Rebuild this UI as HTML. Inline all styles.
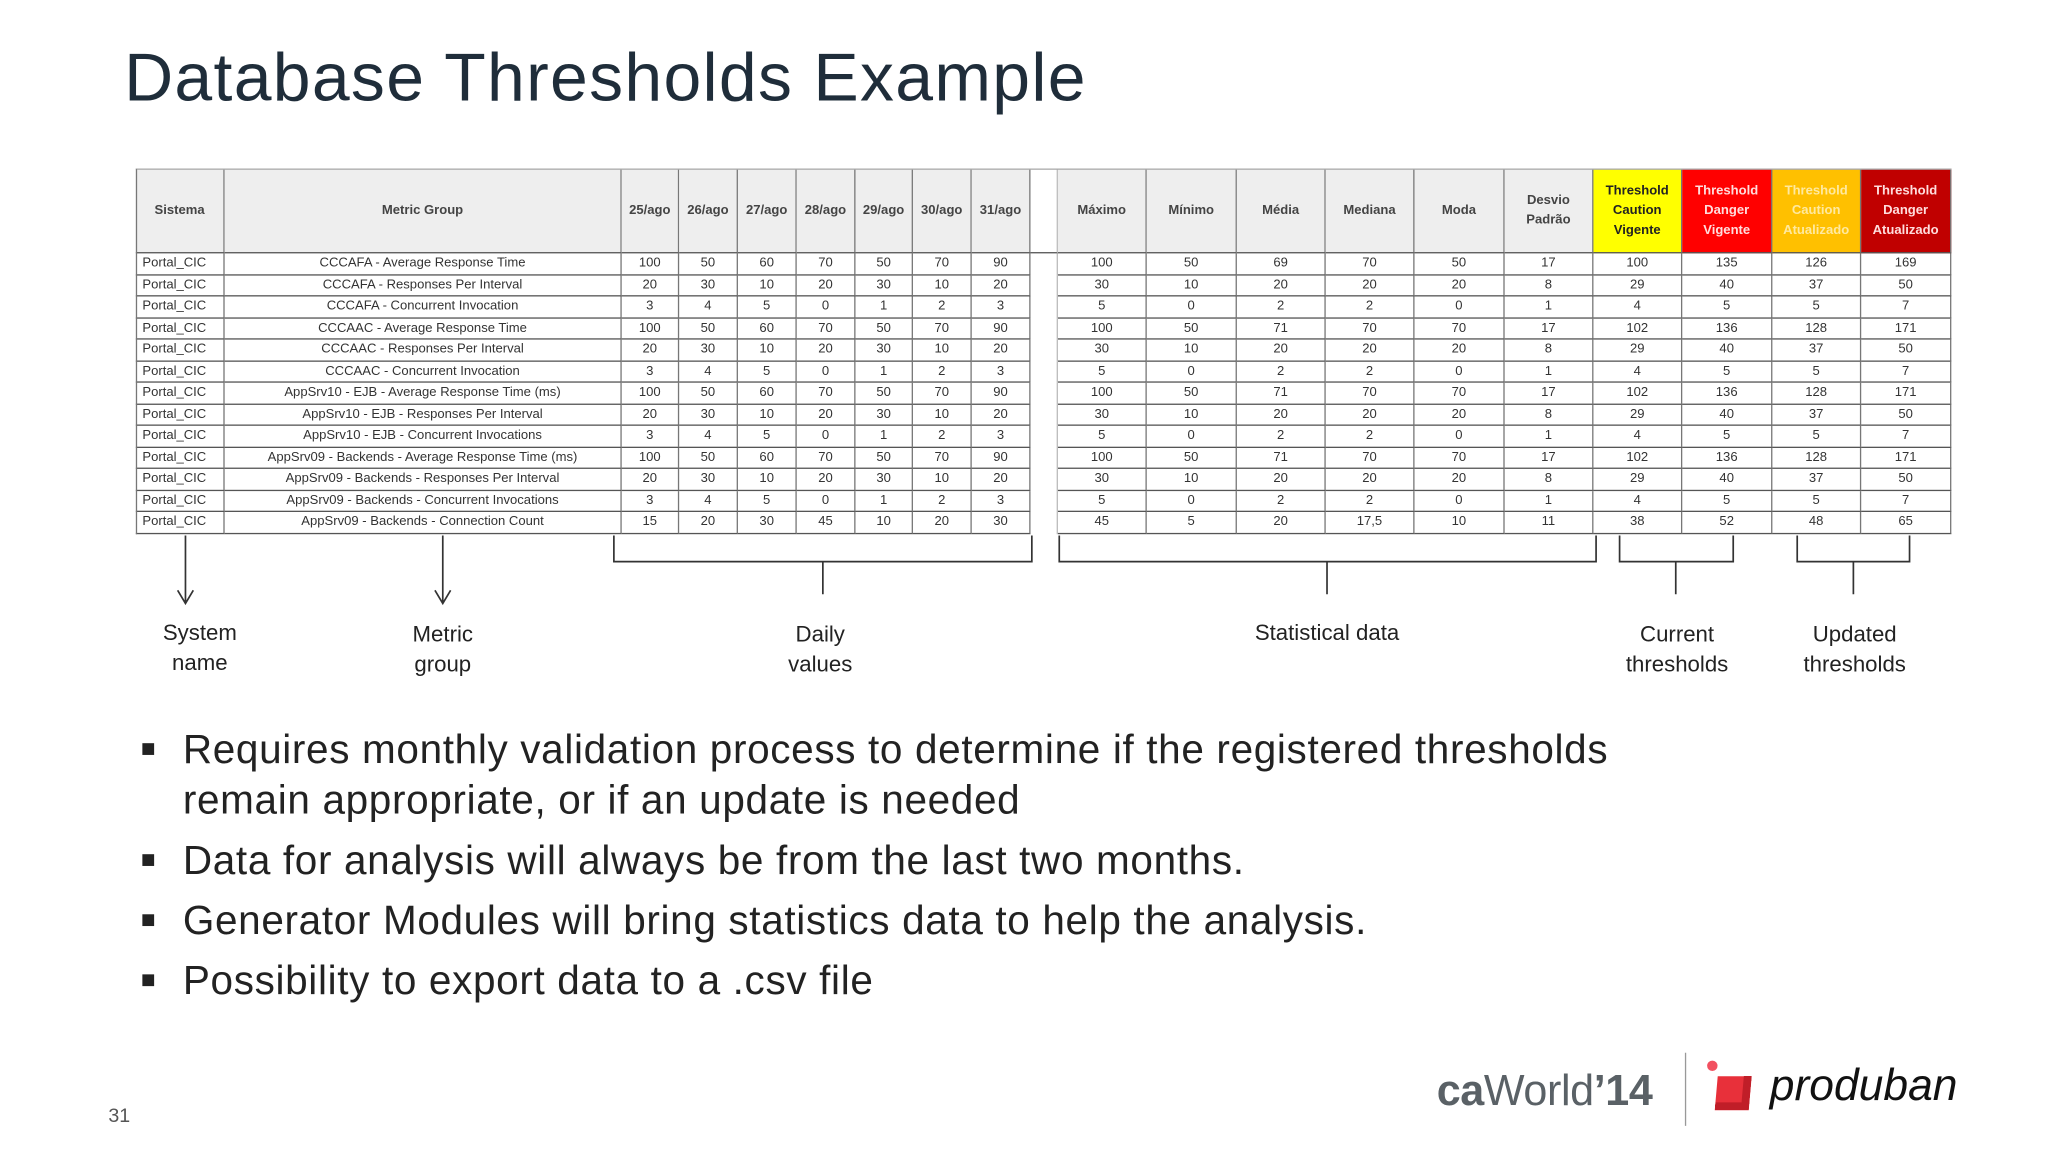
<!DOCTYPE html>
<html><head><meta charset="utf-8"><style>
html,body{margin:0;padding:0;background:#fff;}
body{width:2048px;height:1152px;overflow:hidden;position:relative;}
#stage{position:absolute;left:0;top:0;width:1568px;height:882px;transform:scale(1.30612);transform-origin:0 0;font-family:"Liberation Sans",sans-serif;}
.abs{position:absolute;}
#title{left:95px;top:30px;font-size:52px;color:#1f2d3a;white-space:nowrap;letter-spacing:1px;}
#tbl{left:104px;top:129px;}
.cell{position:absolute;box-sizing:border-box;border-right:1px solid #777;border-bottom:1px solid #555;font-size:10px;color:#333;display:flex;align-items:center;justify-content:center;text-align:center;white-space:nowrap;overflow:hidden;line-height:1.5;}
.hd{background:#eeeeee;font-weight:bold;color:#444;}
.lbl{font-size:17px;color:#222;text-align:center;line-height:23px;transform:translateX(-50%);white-space:nowrap;}
.bul{font-size:31px;color:#222;white-space:nowrap;line-height:39px;letter-spacing:0.5px;}
.sq{position:absolute;width:9px;height:9px;background:#222;left:-31px;top:15px;}
</style></head><body>
<div id="stage">
<div id="title" class="abs">Database Thresholds Example</div>
<div id="tbl" class="abs"></div>

<svg class="abs" style="left:0;top:0" width="1568" height="882">
<g stroke="#333" stroke-width="1.3" fill="none">
<path d="M142 410 V462 M136 452 L142 462 L148 452"/>
<path d="M339 410 V462 M333 452 L339 462 L345 452"/>
<path d="M470 410 V430 H630 V455 M630 430 H790 V410"/>
<path d="M811 410 V430 H1016 V455 M1016 430 H1222 V410"/>
<path d="M1240 410 V430 H1283 V455 M1283 430 H1327 V410"/>
<path d="M1376 410 V430 H1419 V455 M1419 430 H1462 V410"/>
</g></svg>

<div class="abs lbl" style="left:153px;top:473px">System<br>name</div>
<div class="abs lbl" style="left:339px;top:474px">Metric<br>group</div>
<div class="abs lbl" style="left:628px;top:474px">Daily<br>values</div>
<div class="abs lbl" style="left:1016px;top:473px">Statistical data</div>
<div class="abs lbl" style="left:1284px;top:474px">Current<br>thresholds</div>
<div class="abs lbl" style="left:1420px;top:474px">Updated<br>thresholds</div>

<div class="abs bul" style="left:140px;top:554px"><span class="sq"></span>Requires monthly validation process to determine if the registered thresholds<br>remain appropriate, or if an update is needed</div>
<div class="abs bul" style="left:140px;top:639px"><span class="sq"></span>Data for analysis will always be from the last two months.</div>
<div class="abs bul" style="left:140px;top:685px"><span class="sq"></span>Generator Modules will bring statistics data to help the analysis.</div>
<div class="abs bul" style="left:140px;top:731px"><span class="sq"></span>Possibility to export data to a .csv file</div>

<div class="abs" style="left:83px;top:846px;font-size:15px;color:#555">31</div>

<div class="abs" style="left:1100px;top:816px;font-size:33px;color:#5a6166;font-weight:bold;white-space:nowrap;letter-spacing:-0.3px">ca<span style="font-weight:normal">World</span>’14</div>
<div class="abs" style="left:1290px;top:806px;width:1px;height:56px;background:#999"></div>
<div class="abs" style="left:1314px;top:824px;width:26px;height:26px;background:#e8303a;transform:skew(-5deg);box-shadow:inset -6px -6px 0 #c01e28"></div>
<div class="abs" style="left:1307px;top:812px;width:8px;height:8px;border-radius:50%;background:#f25060"></div>
<div class="abs" style="left:1355px;top:812px;font-size:34px;font-style:italic;color:#111;white-space:nowrap">produban</div>
</div>

<script>
const headers = ["Sistema","Metric Group","25/ago","26/ago","27/ago","28/ago","29/ago","30/ago","31/ago","","Máximo","Mínimo","Média","Mediana","Moda","Desvio<br>Padrão","Threshold<br>Caution<br>Vigente","Threshold<br>Danger<br>Vigente","Threshold<br>Caution<br>Atualizado","Threshold<br>Danger<br>Atualizado"];
const metrics = ["CCCAFA - Average Response Time","CCCAFA - Responses Per Interval","CCCAFA - Concurrent Invocation","CCCAAC - Average Response Time","CCCAAC - Responses Per Interval","CCCAAC - Concurrent Invocation","AppSrv10 - EJB - Average Response Time (ms)","AppSrv10 - EJB - Responses Per Interval","AppSrv10 - EJB - Concurrent Invocations","AppSrv09 - Backends - Average Response Time (ms)","AppSrv09 - Backends - Responses Per Interval","AppSrv09 - Backends - Concurrent Invocations","AppSrv09 - Backends - Connection Count"];
const daily = [[100,50,60,70,50,70,90],[20,30,10,20,30,10,20],[3,4,5,0,1,2,3],[100,50,60,70,50,70,90],[20,30,10,20,30,10,20],[3,4,5,0,1,2,3],[100,50,60,70,50,70,90],[20,30,10,20,30,10,20],[3,4,5,0,1,2,3],[100,50,60,70,50,70,90],[20,30,10,20,30,10,20],[3,4,5,0,1,2,3],[15,20,30,45,10,20,30]];
const stats = [[100,50,69,70,50,17],[30,10,20,20,20,8],[5,0,2,2,0,1],[100,50,71,70,70,17],[30,10,20,20,20,8],[5,0,2,2,0,1],[100,50,71,70,70,17],[30,10,20,20,20,8],[5,0,2,2,0,1],[100,50,71,70,70,17],[30,10,20,20,20,8],[5,0,2,2,0,1],[45,5,20,"17,5",10,11]];
const thresholds = [[100,135,126,169],[29,40,37,50],[4,5,5,7],[102,136,128,171],[29,40,37,50],[4,5,5,7],[102,136,128,171],[29,40,37,50],[4,5,5,7],[102,136,128,171],[29,40,37,50],[4,5,5,7],[38,52,48,65]];

const colEdges = [0,68,372,416,461,506,551,595,640,685,706,774,843,911,979,1048,1116,1184,1253,1321,1390];
const headH = 65, rowH = 16.5;
const hdColors = {16:["#ffff00","#222"],17:["#ff0000","#fdd"],18:["#ffc000","#ffe9a0"],19:["#c00000","#fdd"]};
const tbl = document.getElementById('tbl');
function mk(x,y,w,h,html,cls){
  const d=document.createElement('div');
  d.className='cell '+(cls||'');
  d.style.left=x+'px';d.style.top=y+'px';d.style.width=w+'px';d.style.height=h+'px';
  d.innerHTML=html;tbl.appendChild(d);return d;
}
headers.forEach((h,i)=>{
  const d=mk(colEdges[i],0,colEdges[i+1]-colEdges[i],headH,h,'hd');
  
  
  if(i===9){d.style.background='#fff';d.style.borderRight='1px solid #bbb';}
  if(hdColors[i]){d.style.background=hdColors[i][0];d.style.color=hdColors[i][1];}
});
metrics.forEach((m,r)=>{
  const row=['Portal_CIC',m].concat(daily[r],[''],stats[r],thresholds[r]);
  row.forEach((v,i)=>{
    const d=mk(colEdges[i],headH+r*rowH,colEdges[i+1]-colEdges[i],rowH,String(v),'');
    
    
    if(i===0)d.style.justifyContent='flex-start',d.style.paddingLeft='5px';
    if(i===9)d.style.borderRight='1px solid #bbb',d.style.borderBottom='none';
  });
});
const frame=document.createElement('div');
frame.className='abs';


frame.style.cssText='left:0;top:0;width:1390px;height:'+(headH+13*rowH)+'px;border-left:1px solid #777;border-top:1px solid #aaa;box-sizing:border-box;pointer-events:none;';
tbl.appendChild(frame);
</script>
</body></html>
